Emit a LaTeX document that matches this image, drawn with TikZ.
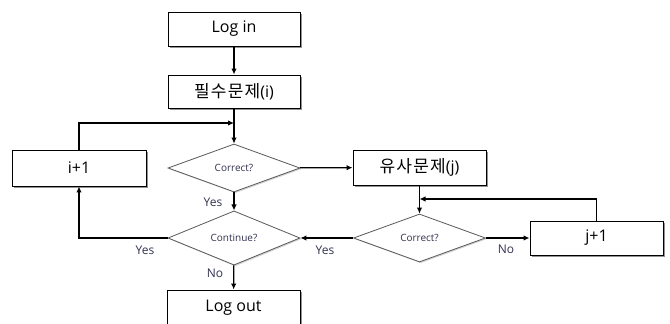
\documentclass[tikz,border=0pt]{standalone}
\usepackage{fontspec}
\setmainfont{Open Sans}
\newfontfamily\kr{Noto Sans CJK KR}
\usetikzlibrary{shapes.geometric,arrows.meta,shadows}
\definecolor{lbl}{RGB}{50,50,80}
\newcommand{\ks}{\kern1.2pt}
\begin{document}
\begin{tikzpicture}[x=1pt,y=-1pt,
  box/.style={draw=black,line width=0.9pt,fill=white,minimum width=132pt,minimum height=34pt,inner sep=0pt,
    font=\fontsize{16}{19}\selectfont,
    drop shadow={shadow xshift=1.8pt,shadow yshift=-1.8pt,fill=black!50,opacity=0.85}},
  dia/.style={diamond,draw=black!65,line width=0.8pt,fill=white,minimum width=132pt,minimum height=48pt,inner sep=0pt,
    font=\fontsize{10}{12}\selectfont,text=lbl,
    drop shadow={shadow xshift=1.2pt,shadow yshift=-1.2pt,fill=black!25,opacity=0.7}},
  conn/.style={line width=1.3pt,-{Latex[length=6pt,width=5.5pt]}},
  lab/.style={font=\fontsize{12}{14}\selectfont,text=lbl,inner sep=0pt}]
\useasboundingbox (0,0) rectangle (670,324);
\clip (0,0) rectangle (670,324);
\node[box] (login) at (234,29) {Log in};
\node[box,minimum height=33pt] (must) at (234,91.5) {{\kr\fontsize{17}{19}\selectfont 필\ks 수\ks 문\ks 제}(i)};
\node[dia] (c1) at (234,168) {Correct?};
\node[box,minimum width=134pt,minimum height=36pt] (inci) at (79,168) {i+1};
\node[box,minimum width=133pt,minimum height=35pt] (sim) at (419.5,167.5) {{\kr\fontsize{17}{19}\selectfont 유\ks 사\ks 문\ks 제}(j)};
\node[dia] (cont) at (234,238) {Continue?};
\node[dia] (c2) at (419.5,238) {Correct?};
\node[box,minimum width=133pt] (incj) at (596.5,238) {j+1};
\node[box,minimum width=133pt,minimum height=36pt] (logout) at (233.5,308) {Log out};
\coordinate (m1) at (234,123);
\coordinate (m2) at (419.5,199);
\draw[conn] (login) -- (must);
\draw[conn] (must) -- (c1);
\draw[conn] (inci.north) |- (m1);
\draw[conn] (c1) -- (sim);
\draw[conn] (c1) -- (cont);
\draw[conn] (cont.west) -| (inci.south);
\draw[conn] (cont) -- (logout);
\draw[conn] (c2) -- (cont);
\draw[conn] (c2) -- (incj);
\draw[conn] (sim) -- (c2);
\draw[conn] (incj.north) |- (m2);
\node[lab] (y1) at (213,202) {Yes};
\node[lab] (y2) at (145,250) {Yes};
\node[lab] (y3) at (325,250) {Yes};
\node[lab] (n1) at (215,273) {No};
\node[lab] (n2) at (506,249) {No};
\end{tikzpicture}
\end{document}
